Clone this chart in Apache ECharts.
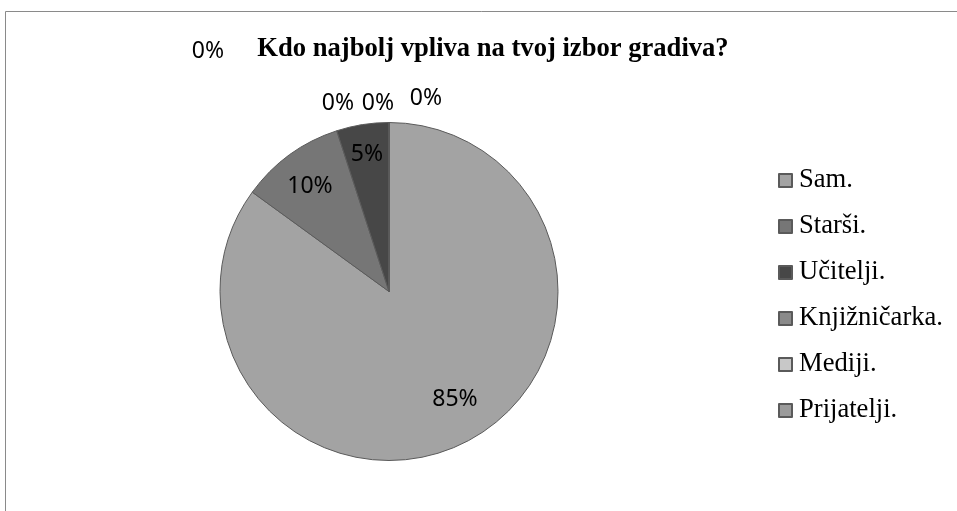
<!DOCTYPE html>
<html>
<head>
<meta charset="utf-8">
<script src="https://cdn.jsdelivr.net/npm/echarts@6/dist/echarts.min.js"></script>
<style>
  html, body { margin: 0; padding: 0; background: #fff; }
  #chart { width: 957px; height: 511px; }
</style>
</head>
<body>
<div id="chart"></div>
<script>
// 图表数据
const categories = ['Sam.', 'Starši.', 'Učitelji.', 'Knjižničarka.', 'Mediji.', 'Prijatelji.', ' '];
const shares = [85, 10, 5, 0, 0, 0, 0];
const legendNames = ['Sam.', 'Starši.', 'Učitelji.', 'Knjižničarka.', 'Mediji.', 'Prijatelji.'];

const sliceColors = ['#a3a3a3', '#767676', '#474747', '#8a8a8a', '#c8c8c8', '#9b9b9b', '#9b9b9b'];
// 标签位置 (像素)
const labelPos = [[455, 399], [310, 186], [367, 154], [338, 103], [378, 103], [426, 98], [208, 51]];

const chart = echarts.init(document.getElementById('chart'));

const option = {
  animation: false,
  title: {
    text: 'Kdo najbolj vpliva na tvoj izbor gradiva?',
    left: 488,
    top: 31,
    textAlign: 'center',
    textStyle: {
      fontFamily: 'Liberation Serif',
      fontWeight: 'bold',
      fontSize: 26.6,
      color: '#000'
    }
  },
  legend: {
    data: legendNames,
    orient: 'vertical',
    left: 773,
    top: 162,
    icon: 'rect',
    itemWidth: 13,
    itemHeight: 13,
    itemGap: 19,
    textStyle: {
      fontFamily: 'Liberation Serif',
      fontSize: 26.6,
      color: '#000',
      lineHeight: 26,
      padding: [0, 0, 0, 2]
    }
  },
  graphic: [{
    type: 'rect',
    shape: { x: 5.5, y: 11.5, width: 1000, height: 600 },
    style: { fill: 'none', stroke: '#8a8a8a', lineWidth: 1 },
    silent: true
  }],
  series: [{
    type: 'pie',
    center: [389, 291.5],
    radius: 169,
    startAngle: 90,
    clockwise: true,
    avoidLabelOverlap: false,
    itemStyle: { borderColor: '#5a5a5a', borderWidth: 1 },
    label: {
      show: true,
      position: 'inside',
      formatter: '{d}%',
      fontFamily: 'Noto Sans',
      fontSize: 23,
      color: '#000'
    },
    labelLine: { show: false },
    labelLayout: function (params) {
      const p = labelPos[params.dataIndex];
      return { x: p[0], y: p[1], align: 'center', verticalAlign: 'middle' };
    },
    emphasis: { disabled: true },
    data: categories.map((name, i) => ({
      name: name,
      value: shares[i],
      itemStyle: { color: sliceColors[i] }
    }))
  }]
};

chart.setOption(option);

window.addEventListener('resize', () => {
  chart.resize();
});
</script>
</body>
</html>
